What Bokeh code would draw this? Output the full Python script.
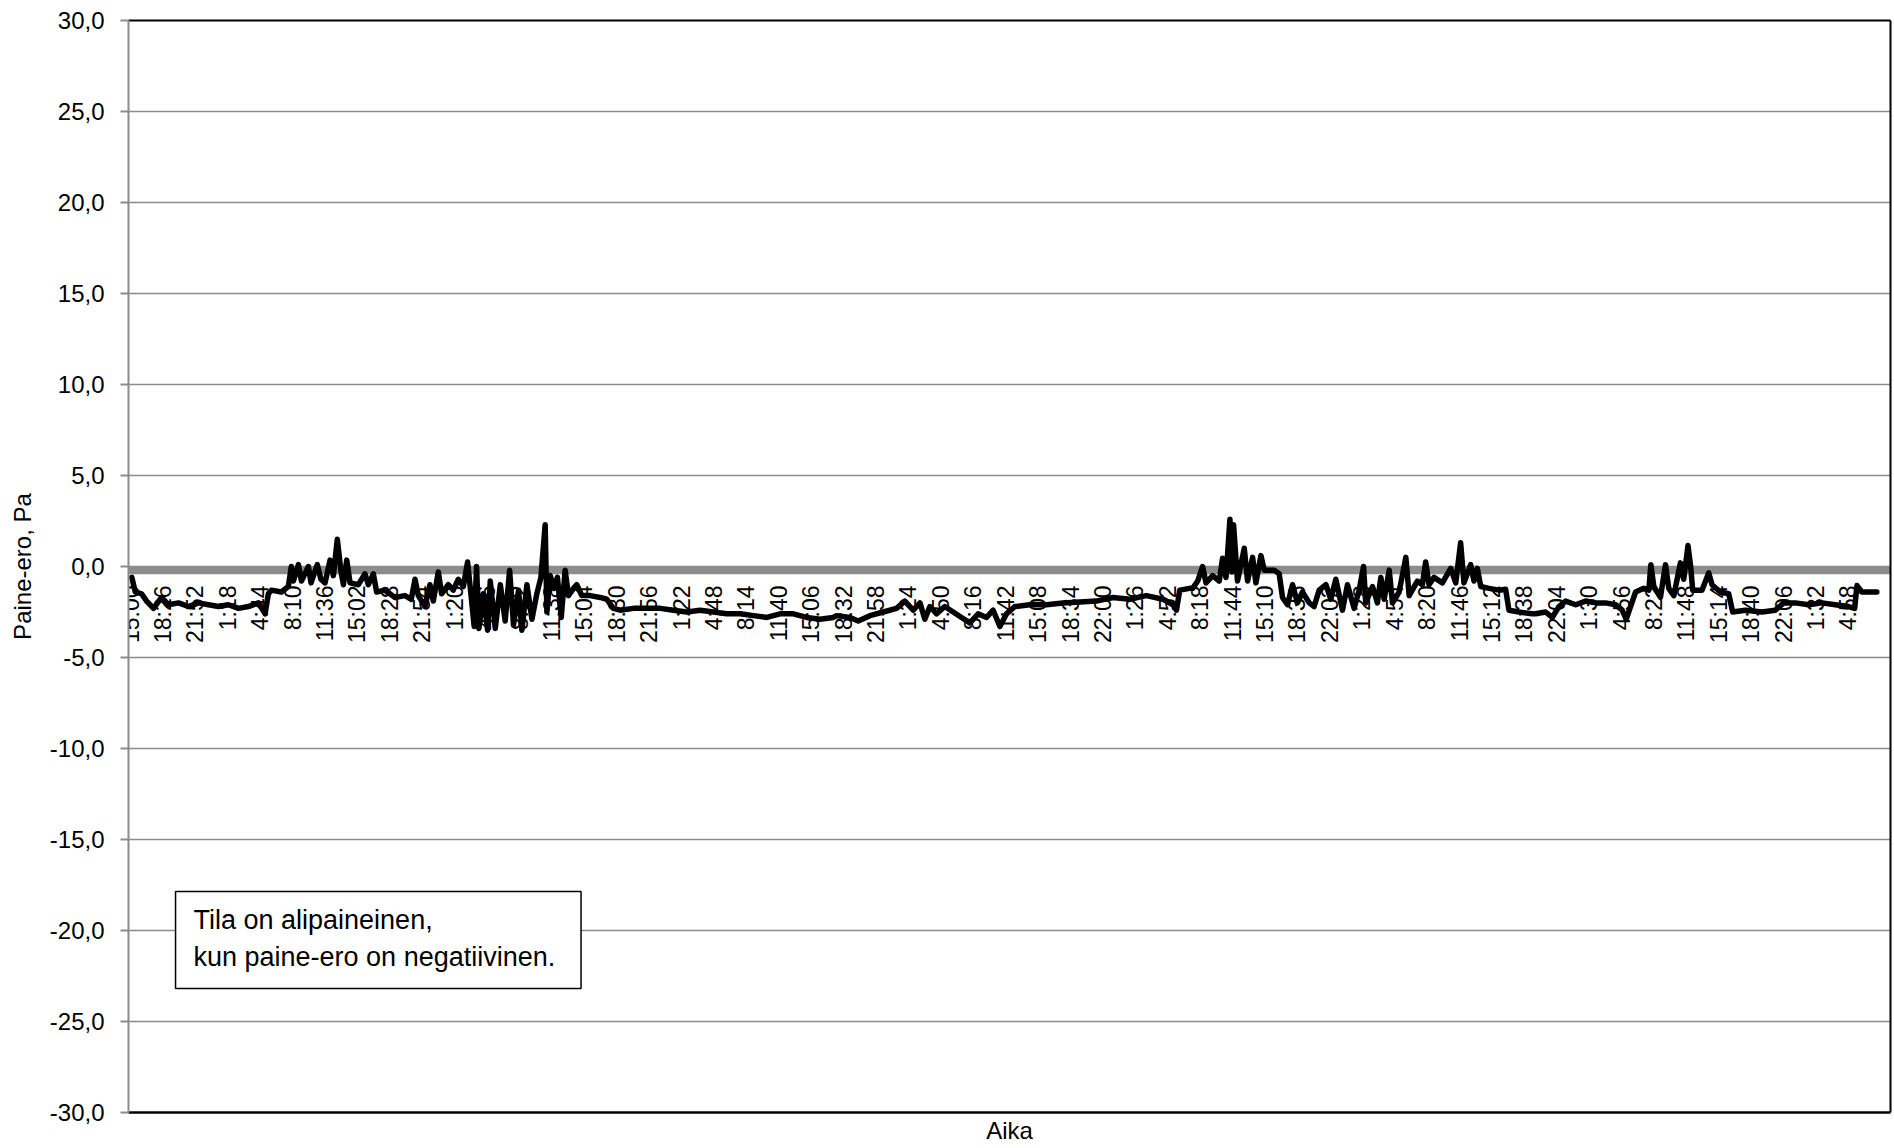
import math
from bokeh.plotting import figure
from bokeh.models import (Span, BoxAnnotation, Label, LinearAxis, FixedTicker,
                          CustomJSTickFormatter, Range1d, ColumnDataSource)
from bokeh.core.properties import value
from bokeh.embed import file_html
from bokeh.resources import INLINE

# ---- data (minutes since 15:00 on day 1, pressure difference Pa) ----
t_min = [8, 30, 70, 102, 146, 197, 241, 305, 368, 432, 495, 559, 622, 686, 749, 813, 855, 876, 895, 959,
         1003, 1022, 1035, 1067, 1086, 1130, 1147, 1187, 1210, 1236, 1268, 1289, 1314, 1338, 1353, 1374,
         1395, 1448, 1490, 1511, 1543, 1564, 1617, 1681, 1744, 1784, 1808, 1829, 1871, 1903, 1924, 1956,
         1977, 2019, 2051, 2083, 2115, 2142, 2163, 2184, 2199, 2214, 2242, 2269,
         2286, 2318, 2350, 2381, 2409, 2434, 2466, 2487, 2519, 2551, 2582, 2608, 2635, 2646, 2667, 2692,
         2713, 2737, 2762, 2783, 2815, 2836, 2868, 2921, 2985, 3027, 3069, 3112, 3196, 3281, 3366, 3450,
         3535, 3620, 3704, 3789, 3874, 3958, 4043, 4128, 4212, 4297, 4382, 4466,
         4487, 4572, 4625, 4699, 4783, 4868, 4921, 4974, 5017, 5048, 5080, 5123, 5175, 5228, 5281, 5334,
         5387, 5440, 5482, 5525, 5567, 5620, 5715, 5821, 5926, 6033, 6138, 6244, 6350, 6456, 6562, 6625,
         6647, 6668, 6731,
         6750, 6782, 6813, 6835, 6877, 6919, 6940, 6962, 6987, 7000, 7010, 7035, 7078, 7099, 7131, 7152,
         7184, 7205, 7268, 7300, 7321, 7353, 7385, 7416, 7448, 7491, 7522, 7554, 7597, 7628, 7660, 7702,
         7734, 7776, 7808, 7836, 7850, 7893, 7924, 7946, 7967, 7999, 8020, 8062, 8105, 8126, 8178, 8210,
         8231, 8252, 8284, 8337, 8390, 8422, 8453, 8474, 8517, 8538, 8559, 8581, 8633, 8697, 8739, 8760,
         8824, 8908,
         8930, 8993, 9035, 9078, 9120, 9184, 9247, 9311, 9374, 9438, 9480, 9505, 9533, 9565, 9617, 9649,
         9662, 9681, 9723, 9755, 9776, 9808, 9850, 9871, 9898, 9915, 9928, 9987, 10030, 10051, 10104, 10157,
         10182, 10263, 10368, 10453, 10506, 10580, 10665, 10749, 10834, 10919, 10957, 10972, 11003, 11098]

pa = [-0.6, -1.4, -1.5, -1.9, -2.3, -1.7, -2.1, -2.0, -2.2, -2.0, -2.1, -2.2, -2.1, -2.3, -2.2, -2.0, -2.6, -1.5, -1.3, -1.4,
      -1.1, 0.0, -0.8, 0.1, -0.8, 0.0, -0.9, 0.1, -0.7, -0.9, 0.35, -0.5, 1.5, -0.3, -1.0, 0.35,
      -0.9, -1.0, -0.4, -1.0, -0.4, -1.4, -1.3, -1.7, -1.6, -1.8, -0.7, -1.6, -2.2, -1.0, -1.9, -0.3,
      -1.5, -1.0, -1.3, -0.7, -1.1, 0.25, -1.5, -3.3, 0.0, -3.4, -1.5, -3.5,
      -0.8, -3.4, -1.0, -3.0, -0.2, -3.2, -1.3, -3.5, -1.0, -2.9, -1.5, -0.6, 2.3, -2.5, -0.5, -1.2,
      -0.6, -2.8, -0.2, -1.6, -1.2, -1.0, -1.6, -1.6, -1.7, -1.8, -2.3, -2.4, -2.3, -2.3, -2.3, -2.4,
      -2.5, -2.4, -2.5, -2.6, -2.6, -2.7, -2.8, -2.6, -2.6, -2.8, -2.9, -2.8,
      -2.7, -2.8, -3.0, -2.7, -2.5, -2.3, -1.9, -2.4, -2.0, -2.9, -2.2, -2.6, -2.2, -2.5, -2.8, -3.1,
      -2.6, -2.8, -2.4, -3.3, -2.6, -2.2, -2.1, -2.1, -2.0, -1.95, -1.9, -1.7, -1.8, -1.6, -1.8, -2.1,
      -2.4, -1.3, -1.2,
      -1.2, -0.8, 0.0, -0.9, -0.5, -0.8, 0.45, -0.6, 2.6, -0.3, 2.3, -0.8, 1.0, -0.8, 0.5, -0.9,
      0.6, -0.2, -0.2, -0.4, -1.7, -2.1, -1.0, -2.0, -1.4, -2.0, -2.2, -1.3, -1.0, -1.8, -0.7, -2.4,
      -1.0, -2.3, -1.3, 0.0, -2.0, -1.1, -2.0, -0.6, -1.8, -0.2, -2.0, -1.4, 0.5, -1.6, -0.8, -1.0,
      0.25, -1.0, -0.6, -0.9, -0.1, -0.9, 1.3, -0.9, 0.1, -0.8, -0.1, -1.1, -1.2, -1.3, -1.25, -2.4,
      -2.5, -2.6,
      -2.6, -2.5, -2.8, -2.2, -1.9, -2.1, -1.9, -2.0, -2.0, -2.1, -2.4, -2.9, -2.2, -1.4, -1.2, -1.3,
      0.1, -1.1, -1.7, 0.1, -1.2, -1.6, 0.2, -0.7, 1.15, 0.0, -1.3, -1.3, -0.35, -1.0, -1.4, -1.5,
      -2.5, -2.4, -2.5, -2.4, -2.0, -2.0, -2.1, -2.0, -2.1, -2.2, -2.3, -1.05, -1.4, -1.4]

tick_labels = ["15:00", "18:26", "21:52", "1:18", "4:44", "8:10", "11:36",
               "15:02", "18:28", "21:54", "1:20", "4:46", "8:12", "11:38",
               "15:04", "18:30", "21:56", "1:22", "4:48", "8:14", "11:40",
               "15:06", "18:32", "21:58", "1:24", "4:50", "8:16", "11:42",
               "15:08", "18:34", "22:00", "1:26", "4:52", "8:18", "11:44",
               "15:10", "18:36", "22:02", "1:28", "4:54", "8:20", "11:46",
               "15:12", "18:38", "22:04", "1:30", "4:56", "8:22", "11:48",
               "15:14", "18:40", "22:06", "1:32", "4:58"]
tick_step_min = 206
tick_min = [i * tick_step_min for i in range(len(tick_labels))]

y_ticks = [-30, -25, -20, -15, -10, -5, 0, 5, 10, 15, 20, 25, 30]

FONT = "Liberation Sans"
GRID = "#8c8c8c"

p = figure(frame_width=1762, frame_height=1092,
           x_range=Range1d(-13, 11185), y_range=Range1d(-30, 30),
           output_backend="svg", toolbar_location=None,
           min_border_left=128, min_border_right=2, min_border_top=20, min_border_bottom=28)
p.outline_line_color = None
p.background_fill_color = "white"

# y axis
p.yaxis.ticker = FixedTicker(ticks=y_ticks)
p.yaxis.formatter = CustomJSTickFormatter(code="return tick.toFixed(1).replace('.', ',');")
p.yaxis.axis_line_color = GRID
p.yaxis.axis_line_width = 2
p.yaxis.major_tick_line_color = GRID
p.yaxis.major_tick_line_width = 2
p.yaxis.major_tick_out = 8
p.yaxis.major_tick_in = 0
p.yaxis.minor_tick_line_color = None
p.yaxis.major_label_text_font = FONT
p.yaxis.major_label_text_font_size = "24px"
p.yaxis.major_label_text_color = "black"
p.yaxis.major_label_standoff = 16
p.yaxis.axis_label = "Paine-ero, Pa"
p.yaxis.axis_label_text_font = FONT
p.yaxis.axis_label_text_font_size = "24px"
p.yaxis.axis_label_text_font_style = "normal"
p.yaxis.axis_label_text_color = "black"
p.yaxis.axis_label_standoff = 11

# x axis (bottom) : only the title
p.xaxis.ticker = FixedTicker(ticks=[])
p.xaxis.major_label_text_font_size = "0px"
p.xaxis.major_tick_out = 0
p.xaxis.minor_tick_line_color = None
p.xaxis.major_label_standoff = 0
p.xaxis.axis_line_color = "black"
p.xaxis.axis_line_width = 2.5
p.xaxis.axis_label = "Aika"
p.xaxis.axis_label_text_font = FONT
p.xaxis.axis_label_text_font_size = "24px"
p.xaxis.axis_label_text_font_style = "normal"
p.xaxis.axis_label_text_color = "black"
p.xaxis.axis_label_standoff = 4

for side in ("above", "right"):
    ax = LinearAxis(ticker=FixedTicker(ticks=[]), major_label_text_font_size="0px",
                    major_tick_out=0, major_tick_in=0, minor_tick_out=0, minor_tick_in=0,
                    major_label_standoff=0, axis_line_color="black", axis_line_width=2)
    p.add_layout(ax, side)

p.xgrid.visible = False
p.ygrid.grid_line_color = GRID
p.ygrid.grid_line_width = 1.6

# thick zero line
p.add_layout(Span(location=-0.2, dimension="width", line_color=GRID, line_width=8, level="underlay"))

# category labels inside the plot, rotated
lab_src = ColumnDataSource(dict(x=tick_min, y=[-1.04] * len(tick_min), text=tick_labels))
p.text(x="x", y="y", text="text", source=lab_src, angle=math.pi / 2,
       text_align="right", text_baseline="middle",
       text_font=value(FONT), text_font_size="23px", text_color="black")

# data line
src = ColumnDataSource(dict(t=t_min, pa=pa))
p.line(x="t", y="pa", source=src, line_color="black", line_width=5.5, line_join="round", line_cap="round")

# note box
p.add_layout(BoxAnnotation(left=286, right=2863, top=-17.86, bottom=-23.19,
                           fill_color="white", fill_alpha=1.0, line_color="black", line_alpha=1.0,
                           line_width=1.5, level="annotation"))
p.add_layout(Label(x=400, y=-19.4, text="Tila on alipaineinen,", text_baseline="middle",
                   text_font=FONT, text_font_size="27px", text_color="black"))
p.add_layout(Label(x=400, y=-21.45, text="kun paine-ero on negatiivinen.", text_baseline="middle",
                   text_font=FONT, text_font_size="27px", text_color="black"))

open("out.html", "w").write(file_html(p, INLINE))
